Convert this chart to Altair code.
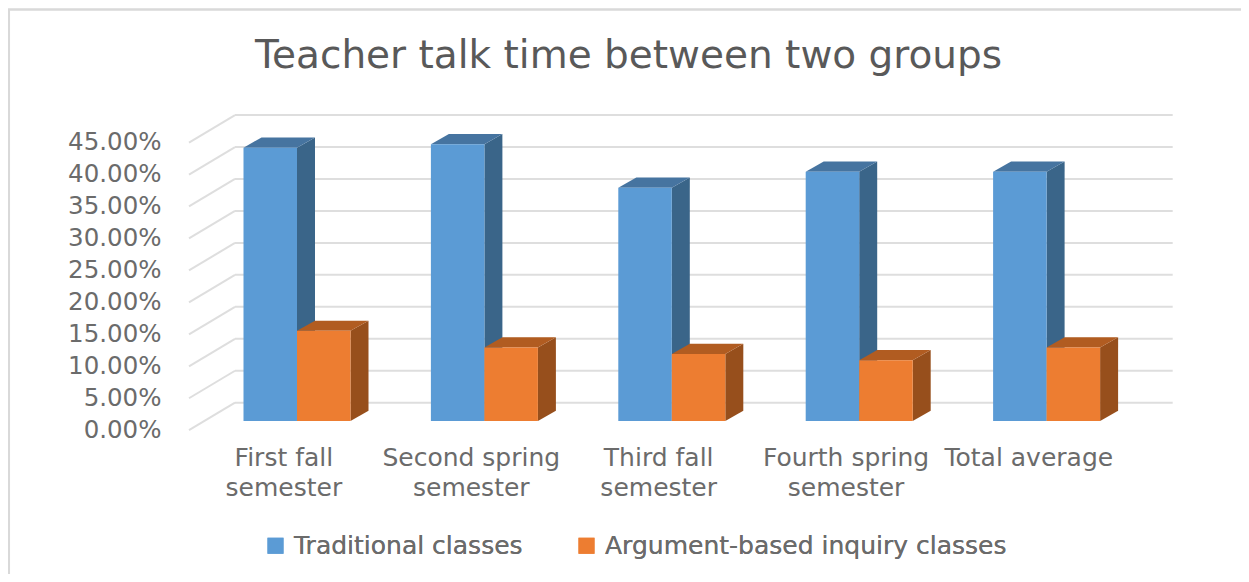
import altair as alt
import pandas as pd

categories = ["First fall\nsemester", "Second spring\nsemester", "Third fall\nsemester", "Fourth spring\nsemester", "Total average"]
traditional = [0.4276, 0.4330, 0.3650, 0.3900, 0.3900]
inquiry = [0.1410, 0.1150, 0.1050, 0.0950, 0.1150]
series_names = ["Traditional classes", "Argument-based inquiry classes"]
y_ticks = [0, 0.05, 0.10, 0.15, 0.20, 0.25, 0.30, 0.35, 0.40, 0.45]
title_text = "Teacher talk time between two groups"

PX_X = 187.4      # px per category
PX_Y = 639.2      # px per 100 %
X0, Y0 = 297.0, 421.0   # page position of category 0 boundary / value 0
L, T, W, H = 8, 8, 1233, 566
BAR = 53.5 / PX_X
DX, DY = 18 / PX_X, 10.2 / PX_Y
WALL_DY = 18.3 / PX_Y
WALL_END = (1172.7 - X0) / PX_X
TEXT = "#6b6b6b"
FONT = "DejaVu Sans"

xs = alt.Scale(domain=[(L - X0) / PX_X, (L + W - X0) / PX_X], nice=False, zero=False)
ys = alt.Scale(domain=[(Y0 - T - H) / PX_Y, (Y0 - T) / PX_Y], nice=False, zero=False)
X = lambda f: alt.X(f, type="quantitative", scale=xs, axis=None)

front, side, top, wall, diag, xlab = [], [], [], [], [], []
for i, cat in enumerate(categories):
    for j, (name, vals) in enumerate(zip(series_names, (traditional, inquiry))):
        v = vals[i]
        x0 = i + (j - 1) * BAR
        x1 = x0 + BAR
        key = f"{i}-{j}"
        front.append(dict(x=x0, x2=x1, y=0, y2=v, s=name, o=j))
        side.append(dict(k=key, x=x1, y=0, y2=v, s=name))
        side.append(dict(k=key, x=x1 + DX, y=DY, y2=v + DY, s=name))
        top.append(dict(k=key, y=v, x=x0, x2=x1, s=name))
        top.append(dict(k=key, y=v + DY, x=x0 + DX, x2=x1 + DX, s=name))
    xlab.append(dict(x=i - (0.095 if i == 4 else 0.07), y=-0.039, t=cat))
for t in y_ticks:
    wall.append(dict(k=t, x=(235 - X0) / PX_X, y=t + WALL_DY))
    wall.append(dict(k=t, x=WALL_END, y=t + WALL_DY))
    diag.append(dict(k=t, x=(189 - X0) / PX_X, y=t + WALL_DY - 27.5 / PX_Y))
    diag.append(dict(k=t, x=(235 - X0) / PX_X, y=t + WALL_DY))

front_df, side_df, top_df = pd.DataFrame(front), pd.DataFrame(side), pd.DataFrame(top)
grid_df = pd.DataFrame(wall + diag)
grid_df["g"] = ["w"] * len(wall) + ["d"] * len(diag)
grid_df["k"] = grid_df["g"] + grid_df["k"].astype(str)

# y axis carries the tick labels; it must be the first layer so that it is kept
axis_layer = alt.Chart(pd.DataFrame({"y": y_ticks})).mark_point(opacity=0).encode(
    y=alt.Y("y:Q", scale=ys, axis=alt.Axis(
        values=y_ticks, format=".2%", domain=False, ticks=False, grid=False,
        labelFontSize=24.5, labelColor=TEXT, labelFont=FONT,
        labelPadding=0, offset=-153, labelOffset=9, title=None)),
)

grid = alt.Chart(grid_df).mark_line(color="#dedede", strokeWidth=2).encode(
    x=X("x"), y=alt.Y("y:Q"), detail="k:N")

side_range = ["#3A6589", "#974F1C"]
top_range = ["#4674A0", "#B15C21"]
main_c = alt.Scale(domain=series_names, range=["#5B9BD5", "#ED7D31"])

layers = [axis_layer, grid]
for j, name in enumerate(series_names):
    sd = side_df[side_df.s == name]
    td = top_df[top_df.s == name]
    fd = front_df[front_df.s == name]
    layers.append(alt.Chart(sd).mark_area(orient="vertical", color=side_range[j]).encode(
        x=X("x"), y=alt.Y("y:Q"), y2="y2:Q", detail="k:N"))
    layers.append(alt.Chart(td).mark_area(orient="horizontal", color=top_range[j]).encode(
        y=alt.Y("y:Q"), x=X("x"), x2="x2:Q", detail="k:N"))
    layers.append(alt.Chart(fd).mark_rect().encode(
        x=X("x"), x2="x2:Q", y=alt.Y("y:Q"), y2="y2:Q",
        color=alt.Color("s:N", scale=main_c, sort=series_names, legend=alt.Legend(
            orient="none", legendX=255, legendY=525, direction="horizontal", title=None,
            symbolType="square", symbolSize=256, symbolStrokeWidth=0,
            labelFontSize=25, labelColor=TEXT, labelFont=FONT, labelLimit=0,
            columnPadding=51, labelOffset=6, values=series_names))))

labels = alt.Chart(pd.DataFrame(xlab)).mark_text(
    fontSize=25, color=TEXT, font=FONT, lineBreak="\n", lineHeight=30,
    baseline="top", align="center").encode(x=X("x"), y=alt.Y("y:Q"), text="t:N")
layers.append(labels)

frame = pd.DataFrame(dict(x=[(L + 0.8 - X0) / PX_X, (L + 0.8 - X0) / PX_X, (L + W - X0) / PX_X],
                          y=[(Y0 - T - H) / PX_Y, (Y0 - 9.5) / PX_Y, (Y0 - 9.5) / PX_Y]))
layers.append(alt.Chart(frame).mark_line(color="#d9d9d9", strokeWidth=2.5).encode(
    x=X("x"), y=alt.Y("y:Q"), order=alt.Order("y:Q")))

chart = alt.layer(*layers).properties(
    width=W, height=H, padding=0,
    autosize=alt.AutoSizeParams(type="none"),
    title=alt.TitleParams(title_text, fontSize=39, font=FONT, color="#595959",
                          fontWeight="normal", anchor="middle", dx=4, offset=-71),
).resolve_scale(color="independent").configure_view(stroke=None)

chart.save("out.html", embed_options={"renderer": "svg", "actions": False})
